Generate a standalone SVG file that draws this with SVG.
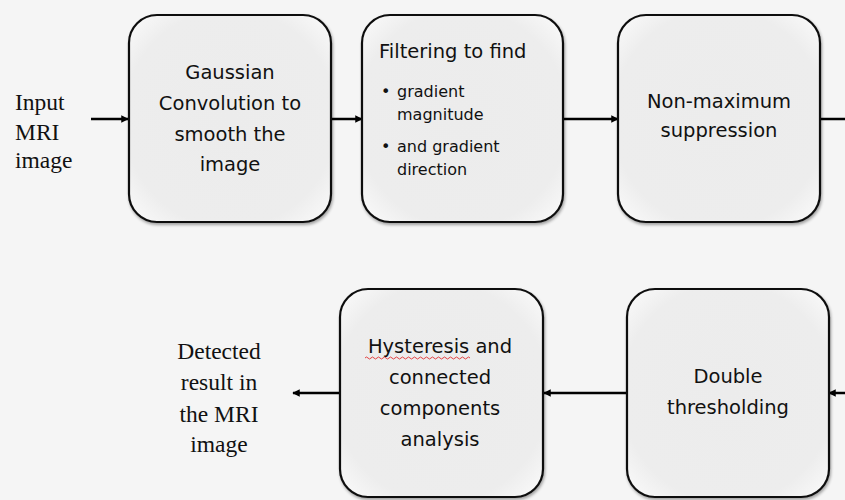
<svg xmlns="http://www.w3.org/2000/svg" width="845" height="500" viewBox="0 0 845 500">
  <defs>
    <radialGradient id="boxFill" cx="0.5" cy="0.5" r="0.7">
      <stop offset="0" stop-color="#ececec"/>
      <stop offset="0.75" stop-color="#ededed"/>
      <stop offset="1" stop-color="#fbfbfb"/>
    </radialGradient>
    <filter id="shadow" x="-10%" y="-10%" width="120%" height="120%">
      <feGaussianBlur in="SourceAlpha" stdDeviation="1.5"/>
      <feOffset dx="1" dy="2" result="blur"/>
      <feComponentTransfer><feFuncA type="linear" slope="0.35"/></feComponentTransfer>
      <feMerge><feMergeNode/><feMergeNode in="SourceGraphic"/></feMerge>
    </filter>
    <marker id="arrow" viewBox="0 0 10 10" refX="9" refY="5" markerWidth="3" markerHeight="3" orient="auto">
      <path d="M0,0 L10,5 L0,10 Z" fill="#000"/>
    </marker>
  </defs>
  <style>
    .box { fill: url(#boxFill); stroke: #111; stroke-width: 2.2; filter: url(#shadow); }
    .label { font-family: "DejaVu Sans", "Liberation Sans", sans-serif; font-size: 19.5px; fill: #111; text-anchor: middle; }
    .left { text-anchor: start; }
    .small { font-family: "DejaVu Sans", "Liberation Sans", sans-serif; font-size: 16px; fill: #111; }
    .serif { font-family: "Liberation Serif", "DejaVu Serif", serif; font-size: 23.5px; fill: #111; }
    .mid { text-anchor: middle; }
    .conn { stroke: #000; stroke-width: 2.5; fill: none; marker-end: url(#arrow); }
    .plain { stroke: #000; stroke-width: 2.5; fill: none; }
  </style>

  <rect width="845" height="500" fill="#f5f5f5"/>

  <!-- connectors -->
  <g id="connectors">
    <line class="conn" x1="91" y1="119" x2="128" y2="119"/>
    <line class="conn" x1="331" y1="119" x2="362" y2="119"/>
    <line class="conn" x1="563" y1="119" x2="618" y2="119"/>
    <line class="plain" x1="820" y1="119" x2="845" y2="119"/>
    <line class="conn" x1="845" y1="393" x2="829" y2="393"/>
    <line class="conn" x1="627" y1="393" x2="544" y2="393"/>
    <line class="conn" x1="340" y1="393" x2="293" y2="393"/>
  </g>

  <!-- input / output labels -->
  <g id="input">
    <text class="serif" x="15" y="110">Input</text>
    <text class="serif" x="15" y="140">MRI</text>
    <text class="serif" x="15" y="168">image</text>
  </g>
  <g id="output">
    <text class="serif mid" x="219" y="359">Detected</text>
    <text class="serif mid" x="219" y="390">result in</text>
    <text class="serif mid" x="219" y="422">the MRI</text>
    <text class="serif mid" x="219" y="452">image</text>
  </g>

  <!-- top row -->
  <g id="gaussian">
    <rect class="box" x="129" y="15" width="202" height="207" rx="28"/>
    <text class="label" x="230" y="79">Gaussian</text>
    <text class="label" x="230" y="110">Convolution to</text>
    <text class="label" x="230" y="141">smooth the</text>
    <text class="label" x="230" y="171">image</text>
  </g>
  <g id="filtering">
    <rect class="box" x="362" y="15" width="201" height="207" rx="28"/>
    <text class="label left" x="379" y="58">Filtering to find</text>
    <text class="small" x="381" y="97">•</text>
    <text class="small" x="397" y="97">gradient</text>
    <text class="small" x="397" y="120">magnitude</text>
    <text class="small" x="381" y="152">•</text>
    <text class="small" x="397" y="152">and gradient</text>
    <text class="small" x="397" y="175">direction</text>
  </g>
  <g id="nonmax">
    <rect class="box" x="618" y="15" width="202" height="207" rx="28"/>
    <text class="label" x="719" y="108">Non-maximum</text>
    <text class="label" x="719" y="137">suppression</text>
  </g>

  <!-- bottom row -->
  <g id="double">
    <rect class="box" x="627" y="289" width="202" height="208" rx="28"/>
    <text class="label" x="728" y="383">Double</text>
    <text class="label" x="728" y="414">thresholding</text>
  </g>
  <g id="hysteresis">
    <rect class="box" x="340" y="289" width="203" height="208" rx="28"/>
    <text class="label" x="440" y="353">Hysteresis and</text>
    <path d="M365,358 q1.5,-2 3,0 t3,0 t3,0 t3,0 t3,0 t3,0 t3,0 t3,0 t3,0 t3,0 t3,0 t3,0 t3,0 t3,0 t3,0 t3,0 t3,0 t3,0 t3,0 t3,0 t3,0 t3,0 t3,0 t3,0 t3,0 t3,0 t3,0 t3,0 t3,0 t3,0 t3,0 t3,0 t3,0 t3,0 t3,0" fill="none" stroke="#e03030" stroke-width="0.9"/>
    <text class="label" x="440" y="384">connected</text>
    <text class="label" x="440" y="415">components</text>
    <text class="label" x="440" y="446">analysis</text>
  </g>
</svg>
